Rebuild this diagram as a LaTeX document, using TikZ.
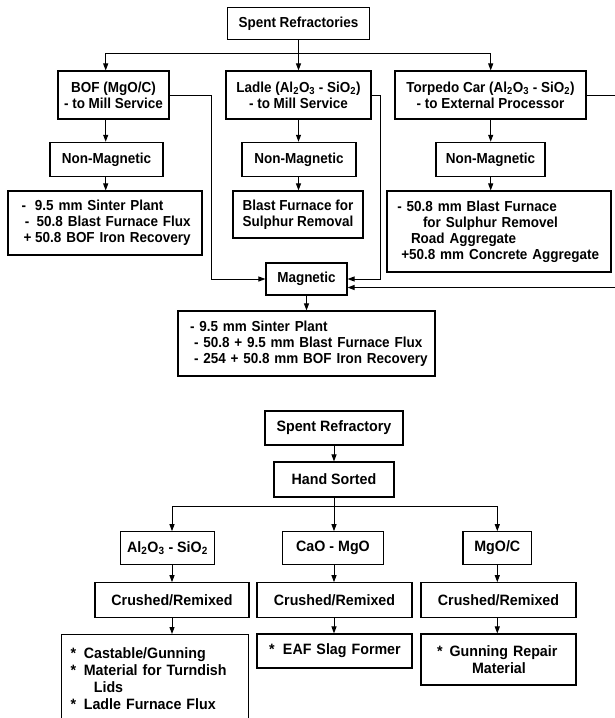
\documentclass[tikz,border=0pt]{standalone}
\usepackage{fontspec}
\newfontfamily\diafont{Liberation Sans}[FakeStretch=0.93]
\newfontfamily\diafontb{Liberation Sans}[FakeStretch=0.95]
\newcommand\dgtop{\diafont\bfseries\fontsize{14.5}{16}\selectfont}
\newcommand\dgbot{\diafontb\bfseries\fontsize{15}{17}\selectfont}
\usetikzlibrary{arrows.meta,calc}
\tikzset{
  box/.style={draw=black, line width=1.1pt, inner sep=2pt, align=center, font=\dgtop},
  lbox/.style={draw=black, line width=1.1pt, inner ysep=2pt, align=left, font=\dgtop},
  bbox/.style={box, font=\dgbot},
  blbox/.style={lbox, font=\dgbot},
  conn/.style={line width=1pt},
  arr/.style={line width=1pt, -{Triangle[length=7pt,width=5pt]}},
}
\begin{document}
\begin{tikzpicture}[x=1pt,y=-1pt]
\path[use as bounding box, fill=white] (0,0) rectangle (614,718);

% ---------- upper diagram ----------
\node[box, minimum width=142pt, minimum height=32pt] (sr) at (298.5,23.3) {Spent Refractories};
\node[box, minimum width=111pt, minimum height=48pt] (bof) at (113.5,95) {BOF (MgO/C)\\- to Mill Service};
\node[box, minimum width=145pt, minimum height=48pt] (ladle) at (298.5,95) {Ladle (Al\textsubscript{2}O\textsubscript{3} - SiO\textsubscript{2})\\- to Mill Service};
\node[box, minimum width=191pt, minimum height=48pt] (torp) at (490.5,95) {Torpedo Car (Al\textsubscript{2}O\textsubscript{3} - SiO\textsubscript{2})\\- to External Processor};

\node[box, minimum width=113pt, minimum height=34.4pt] (nm1) at (106.5,159.5) {Non-Magnetic};
\node[box, minimum width=114pt, minimum height=34.4pt] (nm2) at (299,159.5) {Non-Magnetic};
\node[box, minimum width=109pt, minimum height=34.4pt] (nm3) at (490.5,159.5) {Non-Magnetic};

\node[lbox, text width=166.6pt, inner xsep=13.7pt, minimum height=64pt] (bofres) at (105,223)
 {\mbox{\makebox[13.3pt][l]{-}9.5 mm Sinter Plant}\\
  \mbox{\hspace*{3.3pt}\makebox[11.7pt][l]{-}50.8 Blast Furnace Flux}\\
  \mbox{\hspace*{2pt}\makebox[11.5pt][l]{+}50.8 BOF Iron Recovery}};
\node[box, minimum width=130pt, minimum height=47pt] (ladres) at (298,214.5) {Blast Furnace for\\Sulphur Removal};
\node[lbox, text width=203.2pt, inner xsep=10.4pt, minimum height=81pt] (torpres) at (499,231.5)
 {\mbox{- 50.8 mm Blast Furnace}\\
  \mbox{\hspace*{25.6pt}for Sulphur Removel}\\
  \mbox{\hspace*{13.6pt}Road Aggregate}\\
  \mbox{\hspace*{3.9pt}+50.8 mm Concrete Aggregate}};

\node[box, minimum width=81pt, minimum height=32pt] (mag) at (306.5,279) {Magnetic};
\node[lbox, text width=233pt, inner xsep=12pt, minimum height=65pt] (magres) at (306.5,343.5)
 {\mbox{- 9.5 mm Sinter Plant}\\
  \mbox{\hspace*{4pt}- 50.8 + 9.5 mm Blast Furnace Flux}\\
  \mbox{\hspace*{4pt}- 254 + 50.8 mm BOF Iron Recovery}};

\coordinate (busL) at (105.7,53);
\coordinate (busR) at (490.7,53);
\draw[conn] (busL) -- (busR);
\draw[arr] (busL) -- (busL |- bof.north);
\draw[arr] (sr.south) -- (ladle.north);
\draw[arr] (busR) -- (busR |- torp.north);
\draw[arr] (bof.south -| busL) -- (nm1.north -| busL);
\draw[arr] (nm1.south -| busL) -- (bofres.north -| busL);
\draw[arr] (ladle.south) -- (ladle.south |- nm2.north);
\draw[arr] (ladle.south |- nm2.south) -- (ladle.south |- ladres.north);
\draw[arr] (torp.south -| busR) -- (nm3.north -| busR);
\draw[arr] (nm3.south -| busR) -- (torpres.north -| busR);

\draw[arr] (bof.east) -- ++(42,0) |- (mag.west);
\draw[arr] (ladle.east) -- ++(8.5,0) |- (mag.east);
\coordinate (magin) at ($(mag.east)+(0,8.5)$);
\draw[arr] (torp.east) -- ++(45,0) |- (magin);
\draw[arr] (mag.south) -- (magres.north);

% ---------- lower diagram ----------
\node[bbox, minimum width=138pt, minimum height=34pt] (sr2) at (334,428) {Spent Refractory};
\node[bbox, minimum width=120pt, minimum height=35pt] (hs) at (334,479.5) {Hand Sorted};

\node[bbox, minimum width=93.6pt, minimum height=32.6pt] (al) at (167.5,548) {Al\textsubscript{2}O\textsubscript{3} - SiO\textsubscript{2}};
\node[bbox, minimum width=100.6pt, minimum height=32.6pt] (cao) at (333,548) {CaO - MgO};
\node[bbox, minimum width=68.7pt, minimum height=32.6pt] (mgo) at (497.3,548) {MgO/C};

\node[bbox, minimum width=154pt, minimum height=34.6pt] (cr1) at (172,600) {Crushed/Remixed};
\node[bbox, minimum width=155pt, minimum height=34.6pt] (cr2) at (334.5,600) {Crushed/Remixed};
\node[bbox, minimum width=155pt, minimum height=34.6pt] (cr3) at (498.5,600) {Crushed/Remixed};

\node[blbox, anchor=north west, text width=169pt, inner xsep=9.3pt, inner ysep=12.6pt] (res1) at (60.7,634)
 {\mbox{\makebox[13.3pt][l]{*}Castable/Gunning}\\
  \mbox{\makebox[13.3pt][l]{*}Material for Turndish}\\
  \mbox{\hspace*{23.3pt}Lids}\\
  \mbox{\makebox[13.3pt][l]{*}Ladle Furnace Flux}\\[20pt]\mbox{}};
\node[blbox, text width=131pt, inner xsep=12pt, minimum height=34pt] (res2) at (334.5,651)
 {\mbox{\makebox[14pt][l]{*}EAF Slag Former}};
\node[blbox, text width=123pt, inner xsep=16pt, minimum height=51pt] (res3) at (498.5,659.5)
 {\mbox{\makebox[12.5pt][l]{*}Gunning Repair}\\
  \mbox{\hspace*{35pt}Material}};

\coordinate (bbusL) at (172,506);
\coordinate (colC) at (334,506);
\coordinate (bbusR) at (497.3,506);
\draw[arr] (sr2.south) -- (hs.north);
\draw[conn] (bbusL) -- (bbusR);
\draw[arr] (hs.south) -- (colC |- cao.north);
\draw[arr] (bbusL) -- (bbusL |- al.north);
\draw[arr] (bbusR) -- (bbusR |- mgo.north);
\draw[arr] (al.south -| bbusL) -- (cr1.north -| bbusL);
\draw[arr] (cr1.south -| bbusL) -- (res1.north -| bbusL);
\draw[arr] (cao.south -| colC) -- (cr2.north -| colC);
\draw[arr] (cr2.south -| colC) -- (res2.north -| colC);
\draw[arr] (mgo.south -| bbusR) -- (cr3.north -| bbusR);
\draw[arr] (cr3.south -| bbusR) -- (res3.north -| bbusR);
\end{tikzpicture}
\end{document}
